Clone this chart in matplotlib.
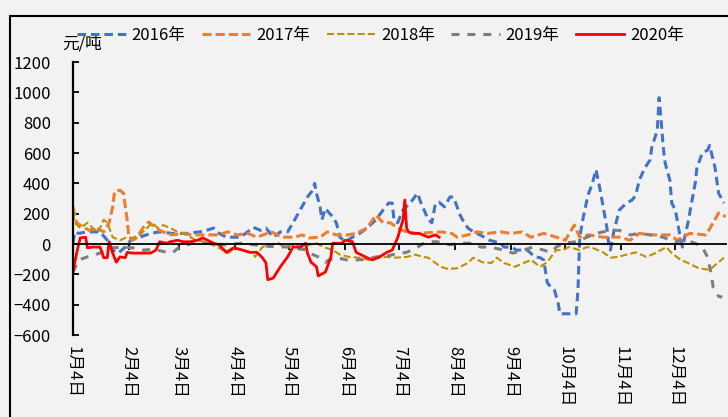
import matplotlib
matplotlib.use("Agg")
import matplotlib.pyplot as plt
from matplotlib.patches import Rectangle

plt.rcParams['font.family'] = ['Noto Sans CJK SC', 'DejaVu Sans']

# x positions are days counted from 1月4日
month_days = [0, 31, 59, 90, 120, 151, 181, 212, 243, 273, 304, 334]
month_labels = ['1月4日', '2月4日', '3月4日', '4月4日', '5月4日', '6月4日',
                '7月4日', '8月4日', '9月4日', '10月4日', '11月4日', '12月4日']

d2016 = [0, 1, 3, 8, 15, 19, 22, 25, 29, 32, 37, 43, 48, 55, 63, 70, 74, 78, 81, 85,
         93, 100, 104, 107, 111, 115, 119, 122, 126, 129, 130, 133, 134, 135, 137, 138,
         140, 142, 144, 146, 148, 151, 155, 159, 163, 168, 172, 175, 177, 178, 180, 183,
         187, 191, 193, 197, 199, 201, 203, 206, 209, 211, 213, 214, 216, 219, 222, 224,
         228, 231, 234, 237, 239, 243, 246, 252, 256, 259, 261, 263, 265, 267, 269, 270,
         279, 280, 281, 283, 285, 286, 288, 290, 292, 294, 296, 297, 298, 300, 302, 303,
         307, 310, 312, 314, 317, 320, 321, 324, 325, 326, 327, 328, 329, 331, 332, 334,
         335, 337, 338, 341, 343, 345, 346, 349, 352, 353, 356, 357, 358, 361]
v2016 = [5, 80, 70, 80, 80, 25, -40, -60, -20, 25, 45, 70, 80, 70, 70, 80, 90, 105, 70, 45,
         45, 110, 90, 105, 45, 80, 80, 140, 225, 290, 310, 355, 400, 335, 245, 160,
         235, 205, 180, 140, 45, 15, 45, 70, 105, 160, 225, 270, 270, 160, 140, 225,
         270, 335, 270, 160, 140, 270, 275, 245, 310, 310, 245, 205, 160, 105, 80, 70,
         45, 25, 15, 5, -20, -20, -40, -40, -85, -90, -105, -255, -285, -305, -390, -460,
         -460, -305, 45, 180, 290, 335, 400, 490, 375, 245, 110, 5, -40, 90, 180, 225,
         270, 290, 320, 420, 500, 555, 640, 750, 965, 835, 685, 555, 505, 420, 270, 225,
         160, 25, -20, 140, 270, 400, 505, 600, 620, 650, 505, 420, 335, 270]

d2017 = [0, 2, 6, 9, 13, 17, 20, 22, 23, 26, 28, 29, 30, 31, 33, 35, 39, 42, 44, 48,
         52, 55, 61, 66, 80, 86, 91, 97, 102, 110, 116, 123, 127, 131, 137, 141, 146, 152,
         157, 163, 168, 172, 176, 180, 185, 191, 204, 210, 213, 219, 224, 230, 237, 243,
         249, 254, 261, 268, 273, 278, 281, 286, 294, 303, 309, 314, 321, 331, 335, 342,
         351, 355, 358, 362]
v2017 = [245, 140, 110, 90, 105, 80, 140, 245, 345, 355, 335, 245, 160, 45, 25, 40, 110, 145,
         125, 90, 70, 60, 70, 60, 60, 80, 60, 70, 45, 80, 45, 45, 60, 40, 45, 80, 60, 60,
         70, 105, 190, 140, 140, 105, 80, 70, 80, 70, 45, 60, 80, 70, 80, 70, 80, 45, 70,
         45, 25, 125, 45, 60, 45, 45, 25, 70, 60, 60, 25, 70, 60, 140, 205, 180]

d2018 = [0, 1, 4, 8, 11, 14, 17, 19, 22, 26, 30, 33, 37, 41, 44, 47, 50, 54, 58, 63,
         68, 73, 80, 86, 90, 94, 99, 101, 105, 108, 114, 117, 123, 127, 131, 135, 139, 144,
         148, 153, 159, 164, 170, 174, 179, 185, 190, 194, 197, 201, 204, 208, 213, 219,
         222, 227, 232, 235, 239, 245, 250, 254, 259, 263, 266, 268, 271, 275, 281, 285,
         288, 294, 298, 302, 307, 312, 318, 323, 329, 332, 337, 341, 347, 353, 358, 361]
v2018 = [205, 140, 105, 140, 105, 80, 160, 140, 45, 25, 45, 40, 60, 105, 140, 105, 125, 105,
         80, 60, 25, 15, -20, -60, -25, -40, -55, -85, -20, -5, 5, -20, -5, -25, -5, 5,
         -20, -40, -70, -85, -90, -105, -90, -85, -90, -85, -70, -85, -90, -125, -150, -165,
         -160, -125, -90, -120, -125, -90, -125, -150, -125, -105, -150, -120, -70, -40, -40,
         -20, -40, -20, -25, -55, -90, -85, -70, -55, -85, -60, -20, -60, -105, -125, -160,
         -170, -120, -90]

d2019 = [0, 3, 8, 15, 22, 28, 33, 39, 45, 52, 55, 59, 66, 74, 85, 93, 100, 108, 119, 130,
         133, 137, 140, 142, 146, 152, 157, 163, 168, 174, 179, 185, 191, 196, 202, 205,
         209, 215, 220, 226, 231, 239, 244, 250, 255, 261, 265, 268, 272, 279, 285, 290,
         298, 303, 309, 314, 320, 327, 334, 340, 345, 349, 352, 354, 355, 358, 360]
v2019 = [-185, -105, -85, -60, -25, -20, -25, -40, -35, -55, -60, -20, 5, 5, -5, 5, -5,
         -15, -20, -40, -70, -90, -120, -105, -90, -105, -105, -100, -85, -80, -65, -55,
         -20, 15, 15, 5, -5, 5, 5, -20, -20, -40, -60, -40, -20, -40, -55, -20, 5, 15,
         45, 70, 90, 90, 60, 70, 60, 45, 15, 25, 5, -20, -90, -205, -285, -345, -350]

d2020 = [0, 1, 2, 4, 7, 8, 11, 15, 17, 19, 20, 22, 24, 26, 29, 30, 33, 43, 46, 48,
         52, 54, 58, 61, 65, 69, 72, 78, 81, 85, 89, 94, 98, 102, 105, 107, 108, 111,
         115, 119, 122, 126, 129, 130, 132, 135, 136, 140, 143, 144, 149, 151, 155, 157,
         163, 166, 170, 174, 177, 180, 181, 183, 184, 185, 186, 188, 192, 197, 201, 203]
v2020 = [-185, -120, -60, 40, 45, -25, -20, -20, -90, -90, 15, -60, -120, -85, -90, -55,
         -60, -60, -40, 15, 5, 15, 25, 15, 15, 25, 40, 5, -5, -55, -25, -40, -55, -55, -90,
         -125, -235, -225, -150, -85, -20, -20, 5, -60, -120, -150, -210, -185, -85, 5, 5,
         25, 15, -55, -90, -105, -85, -55, -40, 40, 80, 160, 290, 105, 80, 70, 70, 45, 60, 45]

fig = plt.figure(figsize=(7.28, 4.17), dpi=100, facecolor='#f2f2f2')
ax = fig.add_axes([0.1003, 0.1966, 0.8967, 0.6547])
ax.set_facecolor('#f2f2f2')

ax.plot(d2016, v2016, color='#4472c4', lw=2.2, dashes=(2.8, 1.6), label='2016年')
ax.plot(d2017, v2017, color='#ed7d31', lw=2.2, dashes=(3.0, 1.3), label='2017年')
ax.plot(d2018, v2018, color='#bf9000', lw=1.5, dashes=(3.4, 1.5), label='2018年')
ax.plot(d2019, v2019, color='#7f7f7f', lw=2.2, dashes=(2.6, 2.6), label='2019年')
ax.plot(d2020, v2020, color='#ff0000', lw=2.0, label='2020年')

ax.set_xlim(0, 362)
ax.set_ylim(-600, 1200)
ax.set_yticks(range(-600, 1201, 200))
ax.tick_params(axis='y', direction='in', length=4, width=1.3, labelsize=12, pad=16)

for side in ['top', 'right']:
    ax.spines[side].set_visible(False)
ax.spines['left'].set_linewidth(1.6)
ax.spines['bottom'].set_position(('data', 0))
ax.spines['bottom'].set_linewidth(1.3)
ax.set_xticks(month_days)
ax.tick_params(axis='x', direction='out', length=4, width=1.3, labelbottom=False)

sec = ax.secondary_xaxis('bottom')
sec.spines['bottom'].set_visible(False)
sec.set_xticks(month_days, month_labels)
sec.tick_params(axis='x', length=0, pad=8, labelsize=12)
for lab in sec.get_xticklabels():
    lab.set_rotation(-90)
    lab.set_va('top')
    lab.set_ha('center')

fig.text(0.085, 0.894, '元/吨', ha='left', va='center', fontsize=12)
fig.legend(loc='center', bbox_to_anchor=(0.523, 0.916), ncol=5, frameon=False,
           fontsize=12, handlelength=2.9, columnspacing=1.0, handletextpad=0.35)

fig.add_artist(Rectangle((10 / 728, -0.1), 2, 1.081 - 8 / 417, transform=fig.transFigure,
                         fill=False, edgecolor='black', lw=1.5))

fig.savefig('out.png', dpi=100, facecolor=fig.get_facecolor())
